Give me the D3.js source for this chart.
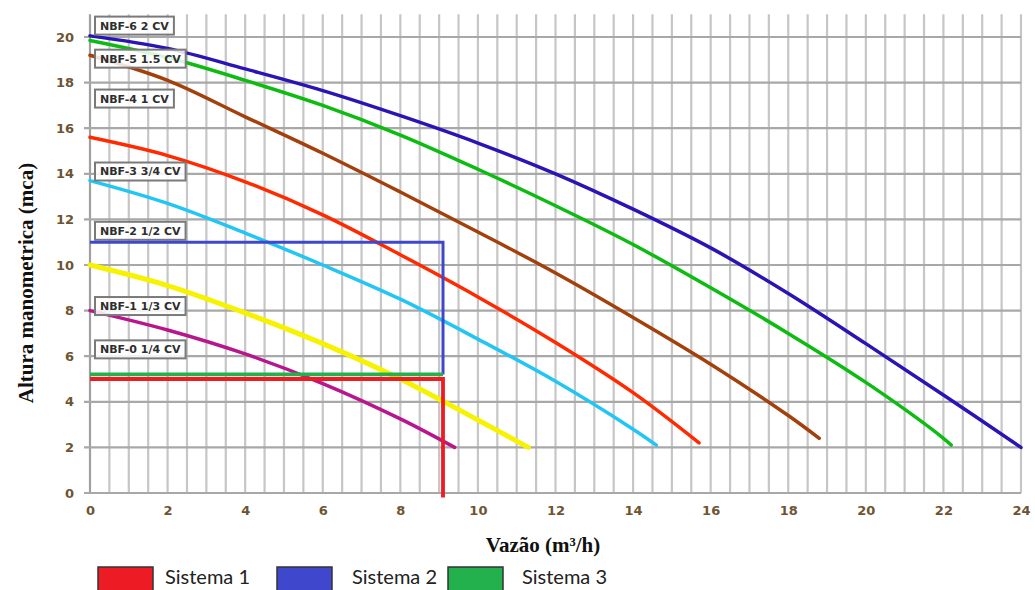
<!DOCTYPE html>
<html>
<head>
<meta charset="utf-8">
<script src="https://cdn.jsdelivr.net/npm/d3@7/dist/d3.min.js"></script>
<style>
  html, body { margin: 0; padding: 0; background: #ffffff; }
  svg { display: block; }
</style>
</head>
<body>
<svg id="chart" width="1035" height="590"></svg>
<script>
// ---------------- DATA ----------------
const xTicks = [0, 2, 4, 6, 8, 10, 12, 14, 16, 18, 20, 22, 24];
const yTicks = [0, 2, 4, 6, 8, 10, 12, 14, 16, 18, 20];

const pumpNames = ["NBF-0 1/4 CV", "NBF-1 1/3 CV", "NBF-2 1/2 CV", "NBF-3 3/4 CV", "NBF-4 1 CV", "NBF-5 1.5 CV", "NBF-6 2 CV"];
const pumpColors = ["#b8168c", "#f7f200", "#22c6f4", "#ff2a00", "#a3400c", "#0cbc10", "#2a14b4"];
const labelY = [6.3, 8.2, 11.5, 14.1, 17.3, 19.05, 20.5];

const nbf0 = [[0, 8.0], [2, 7.15], [4, 6.1], [6, 4.8], [8, 3.25], [9.4, 2.0]];
const nbf1 = [[0, 10.0], [2, 9.1], [4, 7.9], [6, 6.55], [8, 5.0], [10, 3.2], [11.3, 2.0]];
const nbf2 = [[0, 13.7], [2, 12.7], [4, 11.4], [6, 10.0], [8, 8.5], [10, 6.75], [12, 4.9], [14, 2.8], [14.6, 2.1]];
const nbf3 = [[0, 15.6], [2, 14.8], [4, 13.65], [6, 12.2], [8, 10.45], [10, 8.6], [12, 6.6], [14, 4.4], [15.7, 2.2]];
const nbf4 = [[0, 19.2], [2, 18.1], [4, 16.5], [6, 14.9], [8, 13.2], [10, 11.45], [12, 9.65], [14, 7.7], [16, 5.65], [18, 3.4], [18.8, 2.4]];
const nbf5 = [[0, 19.85], [2, 19.1], [4, 18.1], [6, 17.0], [8, 15.7], [10, 14.2], [12, 12.6], [14, 10.9], [16, 9.0], [18, 7.0], [20, 4.85], [22, 2.4], [22.2, 2.1]];
const nbf6 = [[0, 20.05], [2, 19.5], [4, 18.6], [6, 17.65], [8, 16.55], [10, 15.35], [12, 14.0], [14, 12.45], [16, 10.75], [18, 8.75], [20, 6.55], [22, 4.3], [24, 2.0]];
const pumpSeries = [nbf0, nbf1, nbf2, nbf3, nbf4, nbf5, nbf6];

const systemNames = ["Sistema 1", "Sistema 2", "Sistema 3"];
const systemColors = ["#ed1c24", "#3f48cc", "#22b14c"];
const sistema1 = [[0, 5.0], [9.1, 5.0], [9.1, -0.2]];
const sistema2 = [[0, 11.0], [9.1, 11.0], [9.1, 5.2]];
const sistema3 = [[0, 5.2], [9.1, 5.2]];
const systemSeries = [sistema1, sistema2, sistema3];

// ---------------- CHART ----------------
const svg = d3.select("#chart");
const x = d3.scaleLinear().domain([0, 24]).range([90, 1021]);
const y = d3.scaleLinear().domain([0, 20]).range([493, 37]);

// vertical grid every 0.5
const vGrid = d3.range(0, 24.01, 0.5);
svg.append("g").selectAll("line").data(vGrid).join("line")
  .attr("x1", d => x(d)).attr("x2", d => x(d))
  .attr("y1", y(21)).attr("y2", y(0))
  .attr("stroke", d => (d === 0 ? "#a0a0a0" : "#c6c6c6"))
  .attr("stroke-width", 2.2);

// horizontal grid every 2 (extend slightly left as ticks)
svg.append("g").selectAll("line").data(yTicks).join("line")
  .attr("x1", x(0) - 6).attr("x2", x(24))
  .attr("y1", d => y(d)).attr("y2", d => y(d))
  .attr("stroke", "#a8a8a8")
  .attr("stroke-width", 2.2);

// axes (labels only, via d3 axis)
const tickColor = "#6e5430";
const xAxis = svg.append("g").attr("transform", `translate(0,${y(0) + 10})`)
  .call(d3.axisBottom(x).tickValues(xTicks).tickSize(0).tickFormat(d3.format("d")));
xAxis.select(".domain").remove();
xAxis.selectAll("text")
  .attr("fill", tickColor)
  .style("font-family", "'DejaVu Sans', Verdana, sans-serif")
  .style("font-weight", "bold")
  .style("font-size", "13px");

const yAxis = svg.append("g").attr("transform", `translate(${x(0) - 6},0)`)
  .call(d3.axisLeft(y).tickValues(yTicks).tickSize(0).tickPadding(10).tickFormat(d3.format("d")));
yAxis.select(".domain").remove();
yAxis.selectAll("text")
  .attr("fill", tickColor)
  .style("font-family", "'DejaVu Sans', Verdana, sans-serif")
  .style("font-weight", "bold")
  .style("font-size", "13px");

// pump curves
const line = d3.line().x(d => x(d[0])).y(d => y(d[1])).curve(d3.curveCatmullRom.alpha(0.5));
svg.append("g").selectAll("path").data(pumpSeries).join("path")
  .attr("d", d => line(d))
  .attr("fill", "none")
  .attr("stroke", (d, i) => pumpColors[i])
  .attr("stroke-width", (d, i) => (i === 1 ? 5 : 3.5))
  .attr("stroke-linecap", "round");

// pump labels
const labels = svg.append("g");
pumpNames.forEach((name, i) => {
  const g = labels.append("g").attr("transform", `translate(${x(0) + 5},${y(labelY[i])})`);
  const t = g.append("text")
    .attr("x", 5).attr("y", 0).attr("dy", "0.36em")
    .attr("fill", "#2e2e2e")
    .style("font-family", "'DejaVu Sans', Verdana, sans-serif")
    .style("font-weight", "bold")
    .style("font-size", "11px")
    .text(name);
  const w = t.node().getComputedTextLength();
  g.insert("rect", "text")
    .attr("x", 0).attr("y", -9)
    .attr("width", w + 10).attr("height", 18)
    .attr("fill", "rgba(255,255,255,0.85)")
    .attr("stroke", "#7a7a7a")
    .attr("stroke-width", 2);
});

// systems
const sysLine = d3.line().x(d => x(d[0])).y(d => y(d[1]));
const sysOrder = [1, 2, 0];
svg.append("g").selectAll("path").data(sysOrder).join("path")
  .attr("d", i => sysLine(systemSeries[i]))
  .attr("fill", "none")
  .attr("stroke", i => systemColors[i])
  .attr("stroke-width", i => (i === 1 ? 3 : 3.8));

// axis titles
svg.append("text")
  .attr("x", 543).attr("y", 552)
  .attr("text-anchor", "middle")
  .attr("fill", "#111")
  .style("font-family", "'Liberation Serif', 'Times New Roman', serif")
  .style("font-weight", "bold")
  .style("font-size", "21px")
  .text("Vazão (m³/h)");

svg.append("text")
  .attr("transform", "translate(33,283) rotate(-90)")
  .attr("text-anchor", "middle")
  .attr("fill", "#111")
  .style("font-family", "'Liberation Serif', 'Times New Roman', serif")
  .style("font-weight", "bold")
  .style("font-size", "21px")
  .text("Altura manometrica (mca)");

// legend
const legendSwatchX = [98, 277, 448];
const legendTextX = [165, 352, 522];
const legend = svg.append("g");
systemNames.forEach((n, i) => {
  legend.append("rect")
    .attr("x", legendSwatchX[i]).attr("y", 567)
    .attr("width", 55).attr("height", 30)
    .attr("fill", systemColors[i])
    .attr("stroke", "#333").attr("stroke-width", 1.5);
  legend.append("text")
    .attr("x", legendTextX[i]).attr("y", 584)
    .attr("fill", "#222")
    .style("font-family", "Lato, 'Open Sans', sans-serif")
    .style("font-size", "20px")
    .text(n);
});
</script>
</body>
</html>
